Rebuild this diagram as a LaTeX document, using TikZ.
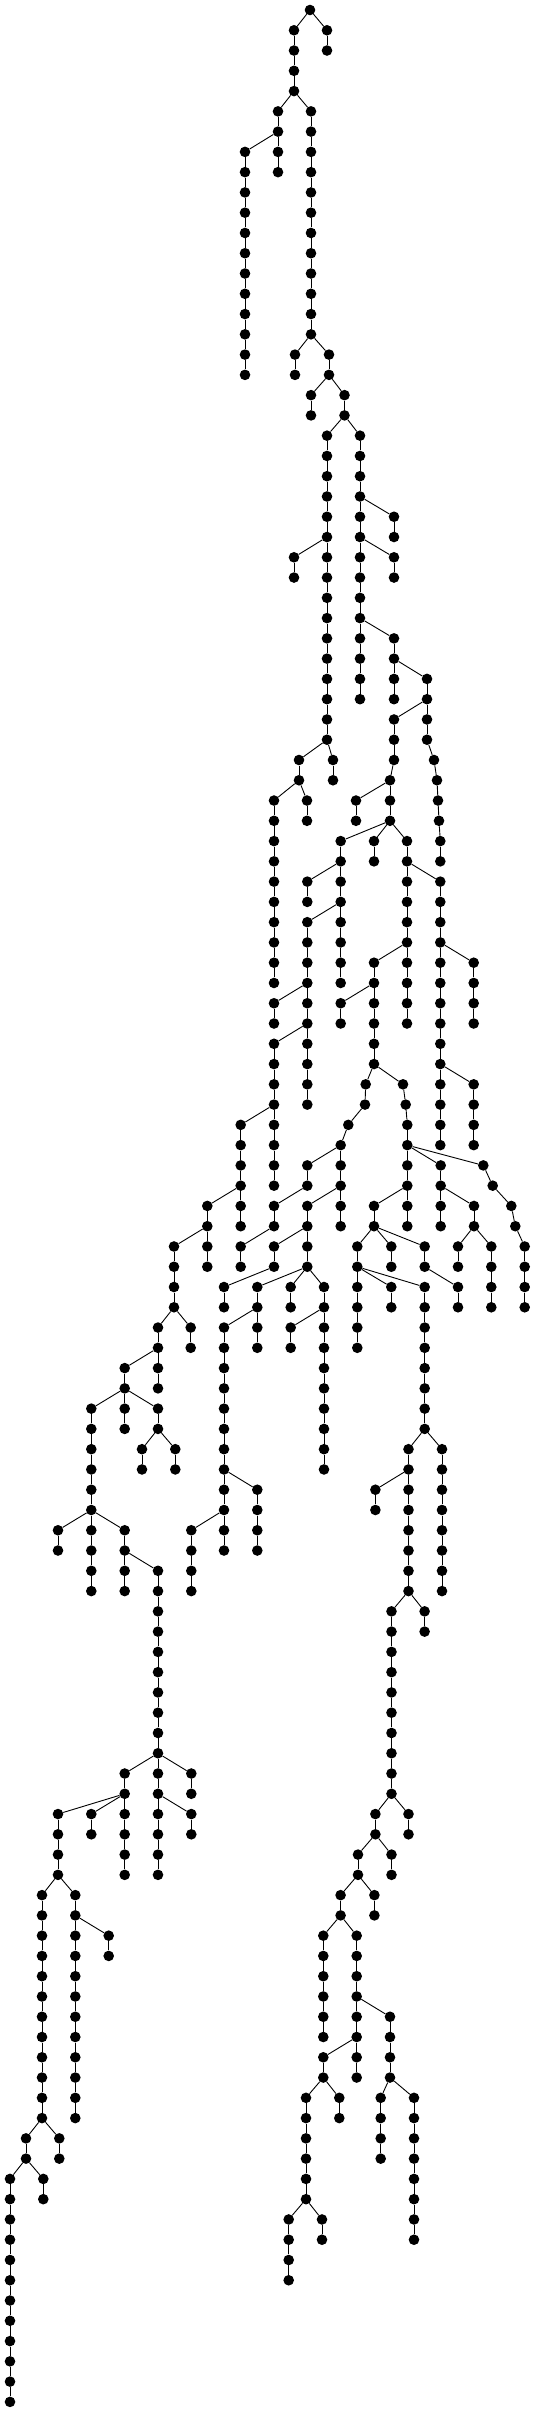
\documentclass[tikz,border=0pt]{standalone}
\begin{document}
\begin{tikzpicture}[x=1pt,y=1pt,
  tdot/.style={circle,fill=black,inner sep=0pt,minimum size=10.6pt},
  lnk/.style={line width=0.9pt,black}]
\useasboundingbox (0,0) rectangle (535,-2412);
\fill[white] (0,0) rectangle (535,-2412);
\newcommand{\chn}[5]{%
  \foreach \L in {#3,...,#4}{\node[tdot] (#1-\L) at (#2,{-(10+20.27*\L)}) {};}%
  \draw[lnk] (#5) -- (#1-#3);%
  \foreach \L [remember=\L as \P (initially #3)] in {#3,...,#4}{\ifnum\L>#3\relax\draw[lnk] (#1-\P) -- (#1-\L);\fi}%
}
\node[tdot] (R-0) at (310,-10) {};
\chn{a}{294}{1}{4}{R-0}
\chn{b}{327}{1}{2}{R-0}
\chn{c}{278}{5}{8}{a-4}
\chn{d}{245}{7}{18}{c-6}
\chn{e}{311}{5}{16}{a-4}
\chn{f}{295}{17}{18}{e-16}
\chn{g}{329}{17}{18}{e-16}
\chn{h}{311}{19}{20}{g-18}
\chn{i}{344.5}{19}{20}{g-18}
\chn{j}{327}{21}{36}{i-20}
\chn{k}{294}{27}{28}{j-26}
\chn{l}{360}{21}{34}{i-20}
\chn{m}{394}{25}{26}{l-24}
\chn{n}{394}{27}{28}{l-26}
\chn{o}{394}{31}{34}{l-30}
\chn{p}{427}{33}{36}{o-32}
\chn{pa}{434}{37}{37}{p-36}
\chn{pb}{437}{38}{38}{pa-37}
\chn{pc}{438}{39}{39}{pb-38}
\chn{pd}{439}{40}{40}{pc-39}
\chn{pe}{440.3}{41}{42}{pd-40}
\chn{q}{394}{35}{37}{p-34}
\chn{r}{390}{38}{40}{q-37}
\chn{s}{356}{39}{40}{r-38}
\chn{t}{333}{37}{38}{j-36}
\chn{u}{299}{37}{38}{j-36}
\chn{v}{274}{39}{48}{u-38}
\chn{w}{307}{39}{40}{u-38}
\chn{x}{340.7}{41}{48}{r-40}
\chn{y}{307.3}{43}{44}{x-42}
\chn{z}{307.3}{45}{54}{x-44}
\chn{aa}{274}{49}{50}{z-48}
\chn{ab}{274}{51}{58}{z-50}
\chn{ac}{240.7}{55}{60}{ab-54}
\chn{ad}{207.3}{59}{62}{ac-58}
\chn{ae}{174}{61}{64}{ad-60}
\chn{af}{190.7}{65}{66}{ae-64}
\chn{ag}{158}{65}{68}{ae-64}
\chn{ah}{124.7}{67}{70}{ag-66}
\chn{ai}{91.3}{69}{78}{ah-68}
\chn{ay}{158}{69}{70}{ah-68}
\chn{aya}{142}{71}{72}{ay-70}
\chn{ayb}{175.3}{71}{72}{ay-70}
\chn{aj}{58}{75}{76}{ai-74}
\chn{ak}{124.7}{75}{78}{ai-74}
\chn{al}{158}{77}{92}{ak-76}
\chn{am}{191.3}{87}{88}{al-86}
\chn{an}{191.3}{89}{90}{al-88}
\chn{ao}{124.7}{87}{92}{al-86}
\chn{ap}{91.3}{89}{90}{ao-88}
\chn{aq}{58}{89}{92}{ao-88}
\chn{ar}{42}{93}{104}{aq-92}
\chn{as}{59.3}{105}{106}{ar-104}
\chn{at}{26}{105}{106}{ar-104}
\chn{au}{43.3}{107}{108}{at-106}
\chn{av}{10}{107}{118}{at-106}
\chn{aw}{75.3}{93}{104}{aq-92}
\chn{ax}{108.7}{95}{96}{aw-94}
\chn{ba}{407}{41}{50}{r-40}
\chn{bb}{374}{41}{42}{r-40}
\chn{bc}{440.3}{43}{56}{ba-42}
\chn{bd}{473.7}{47}{50}{bc-46}
\chn{be}{473.7}{53}{56}{bc-52}
\chn{bf}{374}{47}{52}{ba-46}
\chn{bg}{340.7}{49}{50}{bf-48}
\chn{bha}{365.7}{53}{53}{bf-52}
\chn{bhb}{365}{54}{54}{bha-53}
\chn{bhc}{348.3}{55}{55}{bhb-54}
\chn{bi}{340.7}{56}{60}{bhc-55}
\chn{bj}{307.3}{57}{58}{bi-56}
\chn{bk}{274}{59}{60}{bj-58}
\chn{bl}{240.7}{61}{62}{bk-60}
\chn{bm}{307.3}{59}{62}{bi-58}
\chn{bn}{274}{61}{62}{bm-60}
\chn{bo}{224}{63}{64}{bn-62}
\chn{bp}{257.3}{63}{66}{bm-62}
\chn{bq}{224}{65}{76}{bp-64}
\chn{br}{257.3}{73}{76}{bq-72}
\chn{bs}{191.3}{75}{78}{bq-74}
\chn{bt}{290.7}{63}{64}{bm-62}
\chn{bu}{324}{63}{72}{bm-62}
\chn{bv}{290.7}{65}{66}{bu-64}
\chn{bwa}{403}{53}{53}{bf-52}
\chn{bwb}{405.7}{54}{54}{bwa-53}
\chn{bx}{407.3}{55}{60}{bwb-54}
\chn{by}{374}{59}{60}{bx-58}
\chn{bz}{357.3}{61}{66}{by-60}
\chn{ca}{391.3}{63}{64}{bz-62}
\chn{cb}{424.7}{63}{70}{bz-62}
\chn{cc}{442}{71}{78}{cb-70}
\chn{cd}{408.5}{71}{78}{cb-70}
\chn{ce}{375.4}{73}{74}{cd-72}
\chn{cf}{424.6}{79}{80}{cd-78}
\chn{cg}{391.5}{79}{88}{cd-78}
\chn{ch}{408.5}{89}{90}{cg-88}
\chn{ci}{375.4}{89}{90}{cg-88}
\chn{cj}{391.5}{91}{92}{ci-90}
\chn{ck}{358}{91}{92}{ci-90}
\chn{cl}{374.4}{93}{94}{ck-92}
\chn{cm}{340.6}{93}{94}{ck-92}
\chn{cn}{323.3}{95}{100}{cm-94}
\chn{co}{356.7}{95}{102}{cm-94}
\chn{cp}{390}{99}{102}{co-98}
\chn{cq}{380.7}{103}{106}{cp-102}
\chn{cr}{414}{103}{110}{cp-102}
\chn{cs}{323.3}{101}{102}{co-100}
\chn{ct}{339.3}{103}{104}{cs-102}
\chn{cu}{306}{103}{108}{cs-102}
\chn{cv}{322}{109}{110}{cu-108}
\chn{cw}{288.7}{109}{112}{cu-108}
\chn{cx}{440.7}{57}{60}{bx-56}
\chn{cy}{474}{59}{60}{cx-58}
\chn{cz}{458}{61}{62}{cy-60}
\chn{da}{491.3}{61}{64}{cy-60}
\chn{dba}{483.3}{57}{57}{bx-56}
\chn{dbb}{492.7}{58}{58}{dba-57}
\chn{dbc}{511.3}{59}{59}{dbb-58}
\chn{dbd}{515.3}{60}{60}{dbc-59}
\chn{dc}{524.7}{61}{64}{dbd-60}
\chn{dd}{424.7}{61}{62}{by-60}
\chn{de}{458}{63}{64}{dd-62}
\chn{df}{391.3}{61}{62}{by-60}
\end{tikzpicture}
\end{document}
